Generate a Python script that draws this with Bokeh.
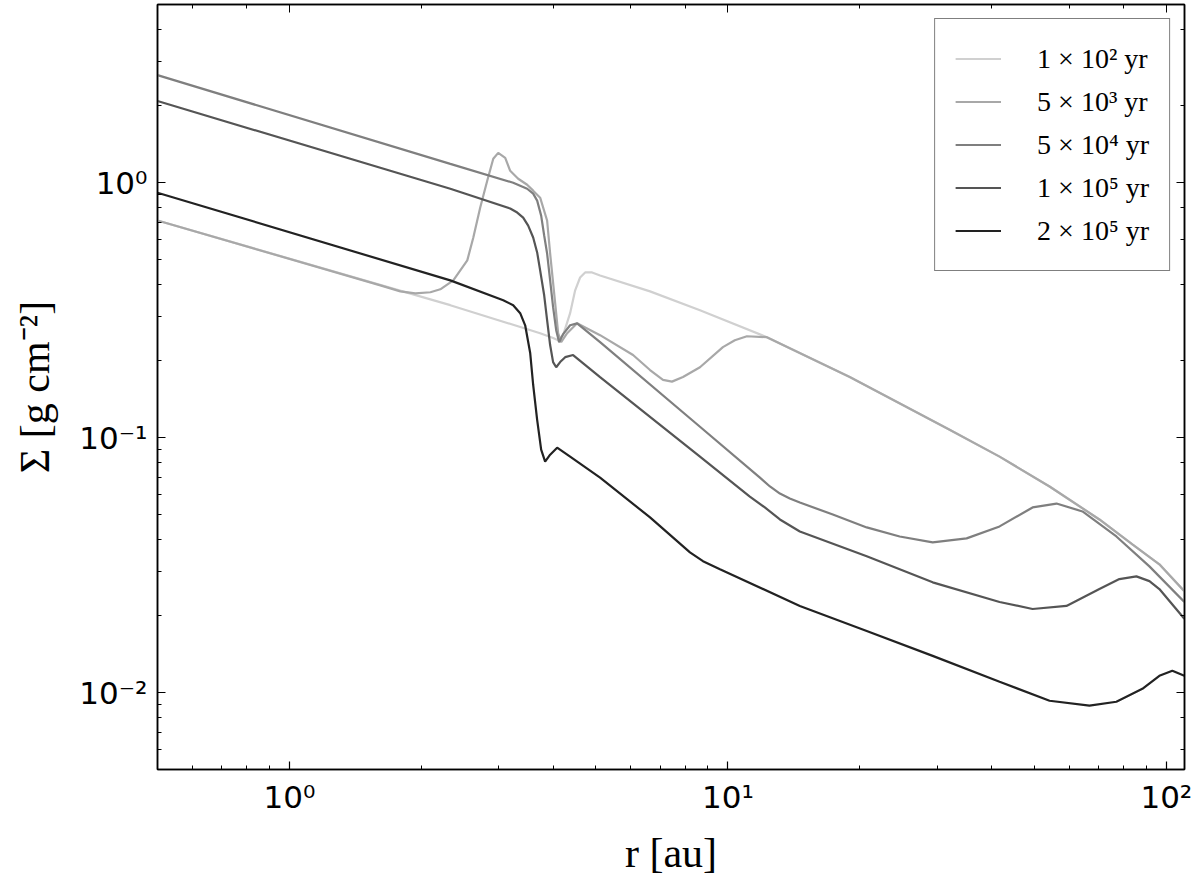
import numpy as np
from bokeh.plotting import figure
from bokeh.models import Range1d, LogAxis, LogTicker, CustomJSTickFormatter
from bokeh.embed import file_html
from bokeh.resources import INLINE

# ---------------- data ----------------
labels = ["1 × 10² yr", "5 × 10³ yr", "5 × 10⁴ yr", "1 × 10⁵ yr", "2 × 10⁵ yr"]
colors = ["#d0d0d0", "#a8a8a8", "#7f7f7f", "#555555", "#222222"]

r_1e2 = [0.500, 2.327, 3.730, 3.993, 4.100, 4.209, 4.366, 4.483, 4.601, 4.724, 4.900,
         5.110, 6.643, 8.635, 12.27, 18.96, 32.04, 41.65, 54.15, 70.36, 83.67, 96.40, 109.9]
sig_1e2 = [0.711, 0.331, 0.257, 0.246, 0.241, 0.2525, 0.308, 0.3785, 0.425, 0.445, 0.445,
           0.433, 0.375, 0.316, 0.248, 0.173, 0.1075, 0.0843, 0.0644, 0.0478, 0.0382, 0.0319, 0.0250]

r_5e3 = [0.500, 1.612, 1.790, 1.936, 2.096, 2.208, 2.364, 2.544, 2.626, 2.723, 2.825, 2.916,
         2.993, 3.105, 3.187, 3.324, 3.484, 3.596, 3.730, 3.869, 3.931, 4.036, 4.100, 4.165,
         4.299, 4.529, 5.110, 6.076, 6.643, 7.111, 7.454, 7.898, 8.635, 9.741, 10.37, 11.05,
         12.27, 18.96, 32.04, 41.65, 54.15, 70.36, 83.67, 96.40, 109.9]
sig_5e3 = [0.711, 0.396, 0.375, 0.368, 0.372, 0.382, 0.414, 0.496, 0.610, 0.799, 1.018, 1.241,
           1.310, 1.252, 1.114, 1.037, 0.982, 0.931, 0.874, 0.711, 0.528, 0.337, 0.257, 0.237,
           0.257, 0.281, 0.2525, 0.211, 0.1843, 0.1686, 0.166, 0.173, 0.189, 0.2267, 0.241, 0.250,
           0.248, 0.173, 0.1075, 0.0843, 0.0644, 0.0478, 0.0382, 0.0319, 0.0250]

r_5e4 = [0.500, 2.327, 3.238, 3.359, 3.484, 3.596, 3.672, 3.750, 3.810, 3.869, 3.931, 3.993,
         4.058, 4.121, 4.209, 4.366, 4.529, 5.110, 8.635, 11.83, 12.47, 13.14, 13.84, 14.59,
         17.35, 20.73, 24.65, 29.31, 35.03, 41.65, 49.53, 56.16, 64.38, 76.92, 91.49, 109.9]
sig_5e4 = [2.642, 1.186, 1.0, 0.973, 0.947, 0.906, 0.851, 0.743, 0.621, 0.528, 0.414, 0.325,
           0.264, 0.237, 0.255, 0.276, 0.281, 0.237, 0.1104, 0.0698, 0.0644, 0.0604, 0.0578, 0.0557,
           0.0500, 0.0445, 0.0410, 0.0389, 0.0403, 0.0449, 0.0533, 0.0552, 0.0514, 0.0410, 0.0313, 0.0227]

r_1e5 = [0.500, 2.327, 3.187, 3.307, 3.412, 3.503, 3.596, 3.672, 3.730, 3.810, 3.869, 3.931,
         3.993, 4.058, 4.143, 4.254, 4.435, 5.110, 8.635, 11.22, 12.14, 13.14, 14.59, 20.73,
         29.31, 41.65, 49.53, 59.18, 70.36, 78.14, 85.44, 91.49, 96.40, 109.9]
sig_1e5 = [2.091, 0.947, 0.792, 0.764, 0.730, 0.679, 0.610, 0.533, 0.453, 0.362, 0.289, 0.231,
           0.198, 0.189, 0.198, 0.207, 0.211, 0.173, 0.0843, 0.0588, 0.0533, 0.0478, 0.0429, 0.0343,
           0.0271, 0.0227, 0.0213, 0.0219, 0.0255, 0.0279, 0.0286, 0.0274, 0.0255, 0.0195]

r_2e5 = [0.500, 2.327, 3.073, 3.238, 3.359, 3.448, 3.540, 3.596, 3.672, 3.750, 3.829, 3.931,
         4.078, 4.366, 5.110, 6.643, 8.193, 8.773, 9.590, 14.59, 20.73, 29.31, 41.65, 54.15,
         66.77, 76.92, 88.17, 96.40, 103.2, 109.9]
sig_2e5 = [0.914, 0.414, 0.346, 0.331, 0.308, 0.276, 0.215, 0.161, 0.1176, 0.0898, 0.0806, 0.0858,
           0.0914, 0.0843, 0.0698, 0.0487, 0.0355, 0.0328, 0.0305, 0.0219, 0.01747, 0.01395, 0.01104, 0.00930,
           0.00890, 0.00922, 0.01036, 0.01165, 0.0122, 0.01165]

series_r = [r_1e2, r_5e3, r_5e4, r_1e5, r_2e5]
series_sig = [sig_1e2, sig_5e3, sig_5e4, sig_1e5, sig_2e5]

x_min, x_max = 0.5, 110.0
y_min, y_max = 0.005, 5.0

# ---------------- figure ----------------
p = figure(width=1192, height=878, x_axis_type="log", y_axis_type="log",
           x_range=Range1d(x_min, x_max), y_range=Range1d(y_min, y_max),
           output_backend="svg", toolbar_location=None,
           min_border_left=157, min_border_right=8, min_border_top=4, min_border_bottom=107)

p.background_fill_color = "white"
p.border_fill_color = "white"
p.outline_line_color = "black"
p.outline_line_width = 1.5
p.xgrid.visible = False
p.ygrid.visible = False

sup_code = """
const e = Math.round(Math.log10(tick));
const sup = {"-":"\u207b","0":"\u2070","1":"\u00b9","2":"\u00b2","3":"\u00b3","4":"\u2074",
             "5":"\u2075","6":"\u2076","7":"\u2077","8":"\u2078","9":"\u2079"};
return "10" + String(e).split("").map(c => sup[c]).join("");
"""
fmt = CustomJSTickFormatter(code=sup_code)
empty_fmt = CustomJSTickFormatter(code='return "";')

for ax in (p.xaxis[0], p.yaxis[0]):
    ax.formatter = fmt
    ax.major_label_text_font = "DejaVu Sans"
    ax.major_label_text_font_size = "31px"
    ax.major_label_text_color = "black"
    ax.axis_label_text_font = "Liberation Serif"
    ax.axis_label_text_font_size = "42px"
    ax.axis_label_text_font_style = "normal"
    ax.axis_label_text_color = "black"
    ax.axis_line_color = "black"
    ax.axis_line_width = 1.5
    ax.major_tick_in = 8
    ax.major_tick_out = 0
    ax.minor_tick_in = 4
    ax.minor_tick_out = 0
    ax.major_tick_line_color = "black"
    ax.minor_tick_line_color = "black"
    ax.major_tick_line_width = 1.2
    ax.minor_tick_line_width = 1.0

p.xaxis.axis_label = "r [au]"
p.yaxis.axis_label = "Σ [g cm⁻²]"
p.xaxis.major_label_standoff = 9
p.yaxis.major_label_standoff = 10
p.xaxis.axis_label_standoff = 12
p.yaxis.axis_label_standoff = 18

# mirrored ticks on top and right
top_ax = LogAxis(ticker=LogTicker(), formatter=empty_fmt)
right_ax = LogAxis(ticker=LogTicker(), formatter=empty_fmt)
for ax in (top_ax, right_ax):
    ax.major_tick_in = 8
    ax.major_tick_out = 0
    ax.minor_tick_in = 4
    ax.minor_tick_out = 0
    ax.major_label_standoff = 0
    ax.major_label_text_font_size = "1px"
    ax.axis_line_color = "black"
    ax.axis_line_width = 1.5
    ax.major_tick_line_color = "black"
    ax.minor_tick_line_color = "black"
p.add_layout(top_ax, "above")
p.add_layout(right_ax, "right")

for r, s, c, lab in zip(series_r, series_sig, colors, labels):
    p.line(r, s, line_color=c, line_width=2.2, legend_label=lab)

lg = p.legend[0]
lg.location = "top_right"
lg.margin = 14
lg.padding = 20
lg.spacing = 4
lg.glyph_width = 46
lg.glyph_height = 39
lg.label_height = 39
lg.label_standoff = 36
lg.label_text_font = "Liberation Serif"
lg.label_text_font_size = "28px"
lg.label_text_color = "black"
lg.border_line_color = "black"
lg.border_line_width = 1.5
lg.background_fill_color = "white"
lg.background_fill_alpha = 1.0

open("out.html", "w").write(file_html(p, INLINE))
